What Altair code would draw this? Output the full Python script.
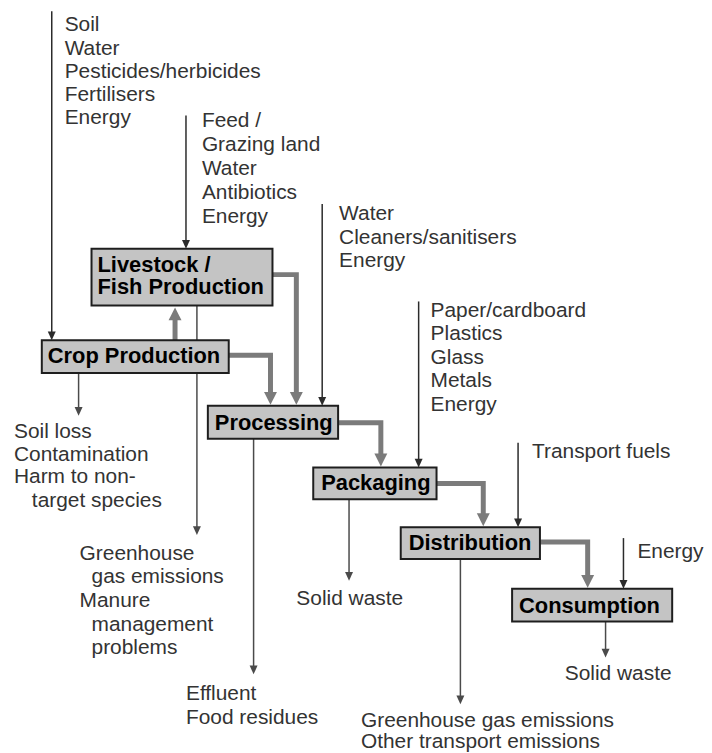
import altair as alt
import pandas as pd

# ---------------- data ----------------
# Process boxes (stage names) and their extents in diagram units
stage_lines = [["Livestock /", "Fish Production"], ["Crop Production"], ["Processing"],
               ["Packaging"], ["Distribution"], ["Consumption"]]
box_x0 = [92, 42, 209, 315, 403, 515]
box_x1 = [274, 230, 340, 439, 543, 676]
box_y0 = [247, 339, 405, 467, 527, 589]
box_y1 = [304, 372, 438, 499, 559, 622]
label_x = [98, 48, 216, 323, 411, 522]
label_y = [[270, 293], [362], [429], [490], [550], [613]]

# Flow connectors between stages (thick grey arrows): list of path points, last = arrow tip
flow_paths = [
    [(176, 339), (176, 306)],                 # crop -> livestock
    [(274, 273), (298, 273), (298, 404)],     # livestock -> processing
    [(230, 354), (272, 354), (272, 404)],     # crop -> processing
    [(340, 422), (383, 422), (383, 466)],     # processing -> packaging
    [(439, 483), (486, 483), (486, 526)],     # packaging -> distribution
    [(543, 542), (591, 542), (591, 588)],     # distribution -> consumption
]

# Inputs (thin arrows pointing into stages)
input_x = [52, 187, 324, 421, 521, 627]
input_top = [8, 113, 202, 300, 442, 538]
input_tip = [339, 247, 405, 467, 527, 589]
input_text = [
    ["Soil", "Water", "Pesticides/herbicides", "Fertilisers", "Energy"],
    ["Feed /", "Grazing land", "Water", "Antibiotics", "Energy"],
    ["Water", "Cleaners/sanitisers", "Energy"],
    ["Paper/cardboard", "Plastics", "Glass", "Metals", "Energy"],
    ["Transport fuels"],
    ["Energy"],
]
input_text_x = [[65] * 5, [203] * 5, [341] * 3, [433] * 5, [535], [641]]
input_text_y = [[28, 52, 75, 98, 122], [125, 149, 173, 197, 221], [218, 242, 265],
                [316, 339, 363, 386, 410], [457], [558]]

# Outputs (thin arrows leaving stages)
output_x = [79, 198, 255, 351, 463, 609]
output_top = [372, 304, 438, 499, 559, 622]
output_tip = [415, 535, 675, 581, 705, 658]
output_text = [
    ["Soil loss", "Contamination", "Harm to non-", "target species"],
    ["Greenhouse", "gas emissions", "Manure", "management", "problems"],
    ["Effluent", "Food residues"],
    ["Solid waste"],
    ["Greenhouse gas emissions", "Other transport emissions"],
    ["Solid waste"],
]
output_text_x = [[14, 14, 14, 32], [80, 92, 80, 92, 92], [187, 187], [298], [363, 363], [568]]
output_text_y = [[437, 460, 483, 507], [560, 583, 607, 631, 655], [701, 725], [605],
                 [728, 749], [681]]

# ---------------- tables ----------------
boxes = pd.DataFrame({"x0": box_x0, "x1": box_x1, "y0": box_y0, "y1": box_y1})

box_text_rows = []
for lines, lx, ly in zip(stage_lines, label_x, label_y):
    for t, yy in zip(lines, ly):
        box_text_rows.append({"t": t, "x": lx, "y": yy})
box_text = pd.DataFrame(box_text_rows)

flow_rows, flow_heads_down, flow_heads_up = [], [], []
for i, pts in enumerate(flow_paths):
    (xa, ya), (xb, yb) = pts[-2], pts[-1]
    step = 9 if yb > ya else -9
    line_pts = pts[:-1] + [(xb, yb - step)]
    for j, (px, py) in enumerate(line_pts):
        flow_rows.append({"id": i, "o": j, "x": px, "y": py})
    (flow_heads_down if yb > ya else flow_heads_up).append({"x": xb, "y": yb})
flow_df = pd.DataFrame(flow_rows)

thin_rows, thin_heads = [], []
for xs, tops, tips, kind in [(input_x, input_top, input_tip, "in"),
                             (output_x, output_top, output_tip, "out")]:
    for x, t0, t1 in zip(xs, tops, tips):
        thin_rows.append({"x": x, "y": t0, "y2": t1 - 4, "kind": kind})
        thin_heads.append({"x": x, "y": t1, "kind": kind})
thin_df = pd.DataFrame(thin_rows)
thin_head_df = pd.DataFrame(thin_heads)

text_rows = []
for groups, gx, gy in [(input_text, input_text_x, input_text_y),
                       (output_text, output_text_x, output_text_y)]:
    for lines, xs, ys in zip(groups, gx, gy):
        for t, xx, yy in zip(lines, xs, ys):
            text_rows.append({"t": t, "x": xx, "y": yy})
text_df = pd.DataFrame(text_rows)

# ---------------- encodings ----------------
XS = alt.Scale(domain=[8, 704], nice=False, zero=False)
YS = alt.Scale(domain=[8, 745], nice=False, zero=False, reverse=True)
X = alt.X("x:Q", scale=XS, axis=None)
Y = alt.Y("y:Q", scale=YS, axis=None)
KIND = alt.Color("kind:N", scale=alt.Scale(domain=["in", "out"], range=["#2b2b2b", "#4a4a4a"]),
                 legend=None)

thin_lines = alt.Chart(thin_df).mark_rule(strokeWidth=1.5).encode(
    x=X, y=Y, y2="y2:Q", color=KIND,
)
thin_arrow = alt.Chart(thin_head_df).mark_point(
    shape="M-1,-2.2L1,-2.2L0,0Z", filled=True, size=64, opacity=1, strokeWidth=0
).encode(x=X, y=Y, color=KIND)

flow_lines = alt.Chart(flow_df).mark_line(
    color="#7b7b7b", strokeWidth=5, strokeCap="butt", strokeJoin="miter"
).encode(x=X, y=Y, detail="id:N", order="o:Q")
flow_down = alt.Chart(pd.DataFrame(flow_heads_down)).mark_point(
    shape="M-1,-2L1,-2L0,0Z", filled=True, size=169, opacity=1, color="#7b7b7b", strokeWidth=0
).encode(x=X, y=Y)
flow_up = alt.Chart(pd.DataFrame(flow_heads_up)).mark_point(
    shape="M-1,2L1,2L0,0Z", filled=True, size=169, opacity=1, color="#7b7b7b", strokeWidth=0
).encode(x=X, y=Y)

box_rects = alt.Chart(boxes).mark_rect(
    fill="#c4c4c4", stroke="#1e1e1e", strokeWidth=2
).encode(
    x=alt.X("x0:Q", scale=XS, axis=None), x2="x1:Q",
    y=alt.Y("y0:Q", scale=YS, axis=None), y2="y1:Q",
)
box_labels = alt.Chart(box_text).mark_text(
    align="left", baseline="alphabetic", font="Liberation Sans", fontWeight="bold",
    fontSize=22, color="#000000"
).encode(x=X, y=Y, text="t:N")

notes = alt.Chart(text_df).mark_text(
    align="left", baseline="alphabetic", font="Liberation Sans", fontSize=21, color="#333333"
).encode(x=X, y=Y, text="t:N")

chart = alt.layer(
    thin_lines, thin_arrow, flow_lines, flow_down, flow_up, box_rects, box_labels, notes
).properties(
    width=696, height=737, padding=0, background="white"
).configure_view(strokeWidth=0)

chart.save("out.html", embed_options={"renderer": "svg", "actions": False})
